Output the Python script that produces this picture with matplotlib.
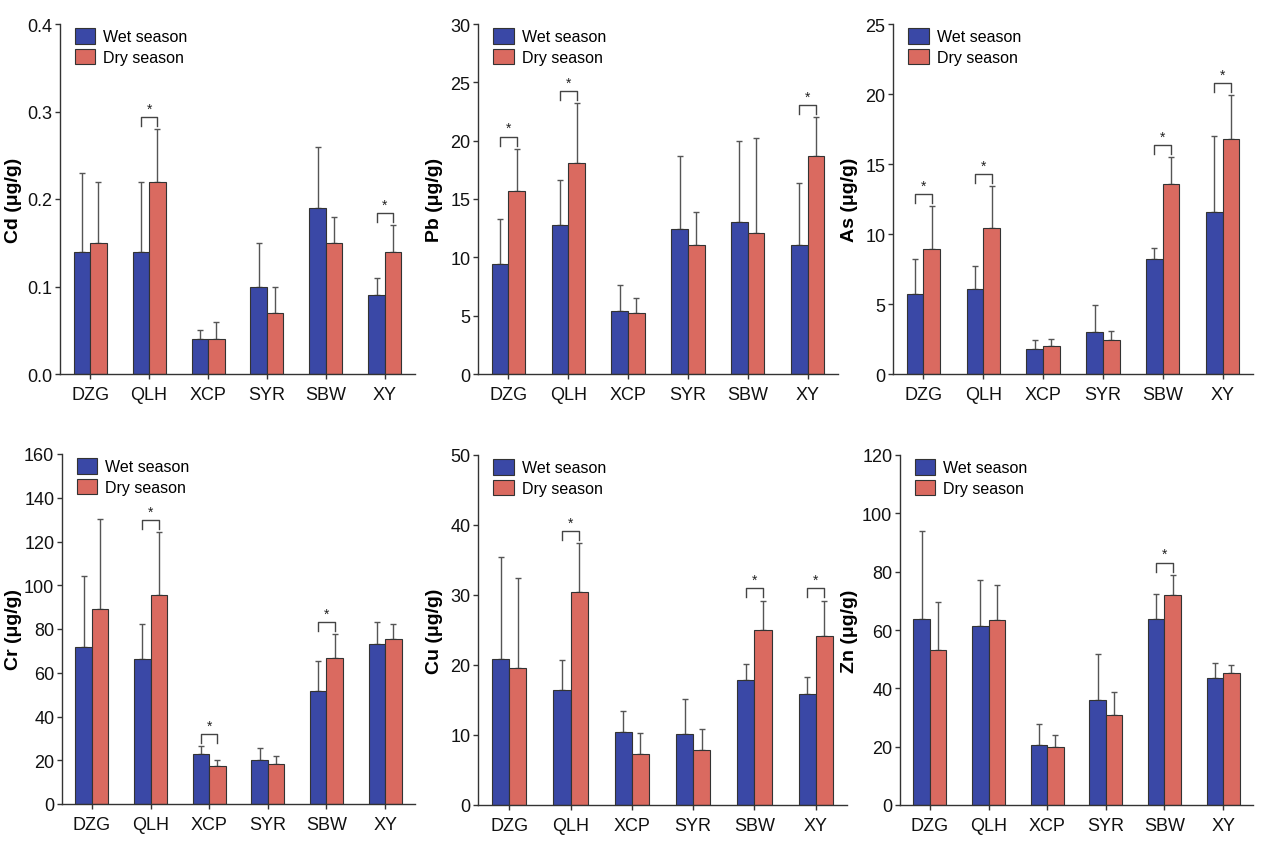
import matplotlib
matplotlib.use("Agg")
import matplotlib.pyplot as plt
import numpy as np
from matplotlib.patches import Patch

plt.rcParams['font.family'] = ['Liberation Sans', 'DejaVu Sans']

sites = ["DZG", "QLH", "XCP", "SYR", "SBW", "XY"]

cd_wet = [0.14, 0.14, 0.04, 0.10, 0.19, 0.09]
cd_wet_err = [0.09, 0.08, 0.01, 0.05, 0.07, 0.02]
cd_dry = [0.15, 0.22, 0.04, 0.07, 0.15, 0.14]
cd_dry_err = [0.07, 0.06, 0.02, 0.03, 0.03, 0.03]
cd_sig = ["QLH", "XY"]

pb_wet = [9.4, 12.8, 5.4, 12.4, 13.0, 11.1]
pb_wet_err = [3.9, 3.8, 2.2, 6.3, 7.0, 5.3]
pb_dry = [15.7, 18.1, 5.2, 11.1, 12.1, 18.7]
pb_dry_err = [3.6, 5.1, 1.3, 2.8, 8.1, 3.3]
pb_sig = ["DZG", "QLH", "XY"]

as_wet = [5.7, 6.1, 1.8, 3.0, 8.2, 11.6]
as_wet_err = [2.5, 1.6, 0.6, 1.9, 0.8, 5.4]
as_dry = [8.9, 10.4, 2.0, 2.4, 13.6, 16.8]
as_dry_err = [3.1, 3.0, 0.5, 0.7, 1.9, 3.1]
as_sig = ["DZG", "QLH", "SBW", "XY"]

cr_wet = [71.6, 66.1, 22.9, 20.3, 51.8, 73.0]
cr_wet_err = [32.8, 16.0, 3.6, 5.3, 13.4, 10.0]
cr_dry = [89.0, 95.7, 17.2, 18.4, 66.9, 75.6]
cr_dry_err = [41.4, 28.5, 3.1, 3.7, 10.8, 6.5]
cr_sig = ["QLH", "XCP", "SBW"]

cu_wet = [20.8, 16.4, 10.4, 10.2, 17.9, 15.9]
cu_wet_err = [14.7, 4.3, 3.1, 5.0, 2.3, 2.4]
cu_dry = [19.6, 30.5, 7.3, 7.9, 25.0, 24.1]
cu_dry_err = [12.8, 6.9, 3.0, 2.9, 4.2, 5.1]
cu_sig = ["QLH", "SBW", "XY"]

zn_wet = [63.9, 61.4, 20.6, 35.9, 63.9, 43.4]
zn_wet_err = [30.2, 15.7, 7.2, 16.0, 8.4, 5.2]
zn_dry = [53.3, 63.5, 19.9, 31.0, 72.1, 45.1]
zn_dry_err = [16.4, 12.0, 4.2, 7.9, 6.8, 2.8]
zn_sig = ["SBW"]

panels = [
    ("Cd (μg/g)", cd_wet, cd_wet_err, cd_dry, cd_dry_err, cd_sig, 0.4, 0.1, "{:.1f}", (60, 415, 25, 375), 22),
    ("Pb (μg/g)", pb_wet, pb_wet_err, pb_dry, pb_dry_err, pb_sig, 30, 5, "{:.0f}", (478, 838, 25, 375), 443),
    ("As (μg/g)", as_wet, as_wet_err, as_dry, as_dry_err, as_sig, 25, 5, "{:.0f}", (893, 1253, 25, 375), 858),
    ("Cr (μg/g)", cr_wet, cr_wet_err, cr_dry, cr_dry_err, cr_sig, 160, 20, "{:.0f}", (62, 415, 455, 805), 22),
    ("Cu (μg/g)", cu_wet, cu_wet_err, cu_dry, cu_dry_err, cu_sig, 50, 10, "{:.0f}", (478, 847, 456, 806), 443),
    ("Zn (μg/g)", zn_wet, zn_wet_err, zn_dry, zn_dry_err, zn_sig, 120, 20, "{:.0f}", (900, 1253, 456, 806), 858),
]

W, H = 1263, 845
fig = plt.figure(figsize=(W / 100, H / 100), dpi=100)

blue = "#3a48a6"
red = "#da6a60"
edge = "#333333"
errc = "#555555"
bw = 0.28

for (label, wet, wet_err, dry, dry_err, sig, ymax, step, fmt, (l, r, t, b), lx) in panels:
    ax = fig.add_axes([l / W, 1 - b / H, (r - l) / W, (b - t) / H])
    x = np.arange(len(sites))
    ax.bar(x - bw / 2, wet, bw, color=blue, edgecolor=edge, linewidth=0.8, zorder=2)
    ax.bar(x + bw / 2, dry, bw, color=red, edgecolor=edge, linewidth=0.8, zorder=2)
    ax.errorbar(x - bw / 2, wet, yerr=[np.zeros(len(wet)), wet_err], fmt="none",
                ecolor=errc, elinewidth=1.0, capsize=2, capthick=1.0, zorder=1)
    ax.errorbar(x + bw / 2, dry, yerr=[np.zeros(len(dry)), dry_err], fmt="none",
                ecolor=errc, elinewidth=1.0, capsize=2, capthick=1.0, zorder=1)
    ax.set_xlim(-0.51, len(sites) - 0.49)
    ax.set_ylim(0, ymax)
    ticks = np.arange(0, ymax + step / 2, step)
    ax.set_yticks(ticks)
    ax.set_yticklabels([fmt.format(v) for v in ticks])
    ax.set_xticks(x)
    ax.set_xticklabels(sites)
    for s in ["top", "right"]:
        ax.spines[s].set_visible(False)
    for s in ["left", "bottom"]:
        ax.spines[s].set_color("#333333")
        ax.spines[s].set_linewidth(1.0)
    ax.tick_params(axis="both", labelsize=13, colors="#333333", labelcolor="#111111",
                   length=3.5, width=1.0, direction="out")
    ax.tick_params(axis="x", pad=5)
    ax.tick_params(axis="y", pad=2)
    ax.set_ylabel(label, fontsize=14, fontweight="bold")
    ax.yaxis.set_label_coords((lx - l) / (r - l), 0.5)
    rng = ymax
    for s_name in sig:
        i = sites.index(s_name)
        top = max(wet[i] + wet_err[i], dry[i] + dry_err[i])
        yb = top + 0.035 * rng
        leg = 0.026 * rng
        ax.plot([i - bw / 2, i - bw / 2, i + bw / 2, i + bw / 2],
                [yb - leg, yb, yb, yb - leg], color="#444444", linewidth=1.0, zorder=3)
        ax.text(i, yb + 0.004 * rng, "*", ha="center", va="bottom", fontsize=10, color="#222222")
    handles = [Patch(facecolor=blue, edgecolor=edge, linewidth=0.8),
               Patch(facecolor=red, edgecolor=edge, linewidth=0.8)]
    ax.legend(handles, ["Wet season", "Dry season"], loc="upper left", frameon=False,
              fontsize=11.5, bbox_to_anchor=(0.01, 1.02), handlelength=1.3, handleheight=1.1,
              handletextpad=0.5, labelspacing=0.3, borderaxespad=0.3)

fig.savefig("out.png", dpi=100)
